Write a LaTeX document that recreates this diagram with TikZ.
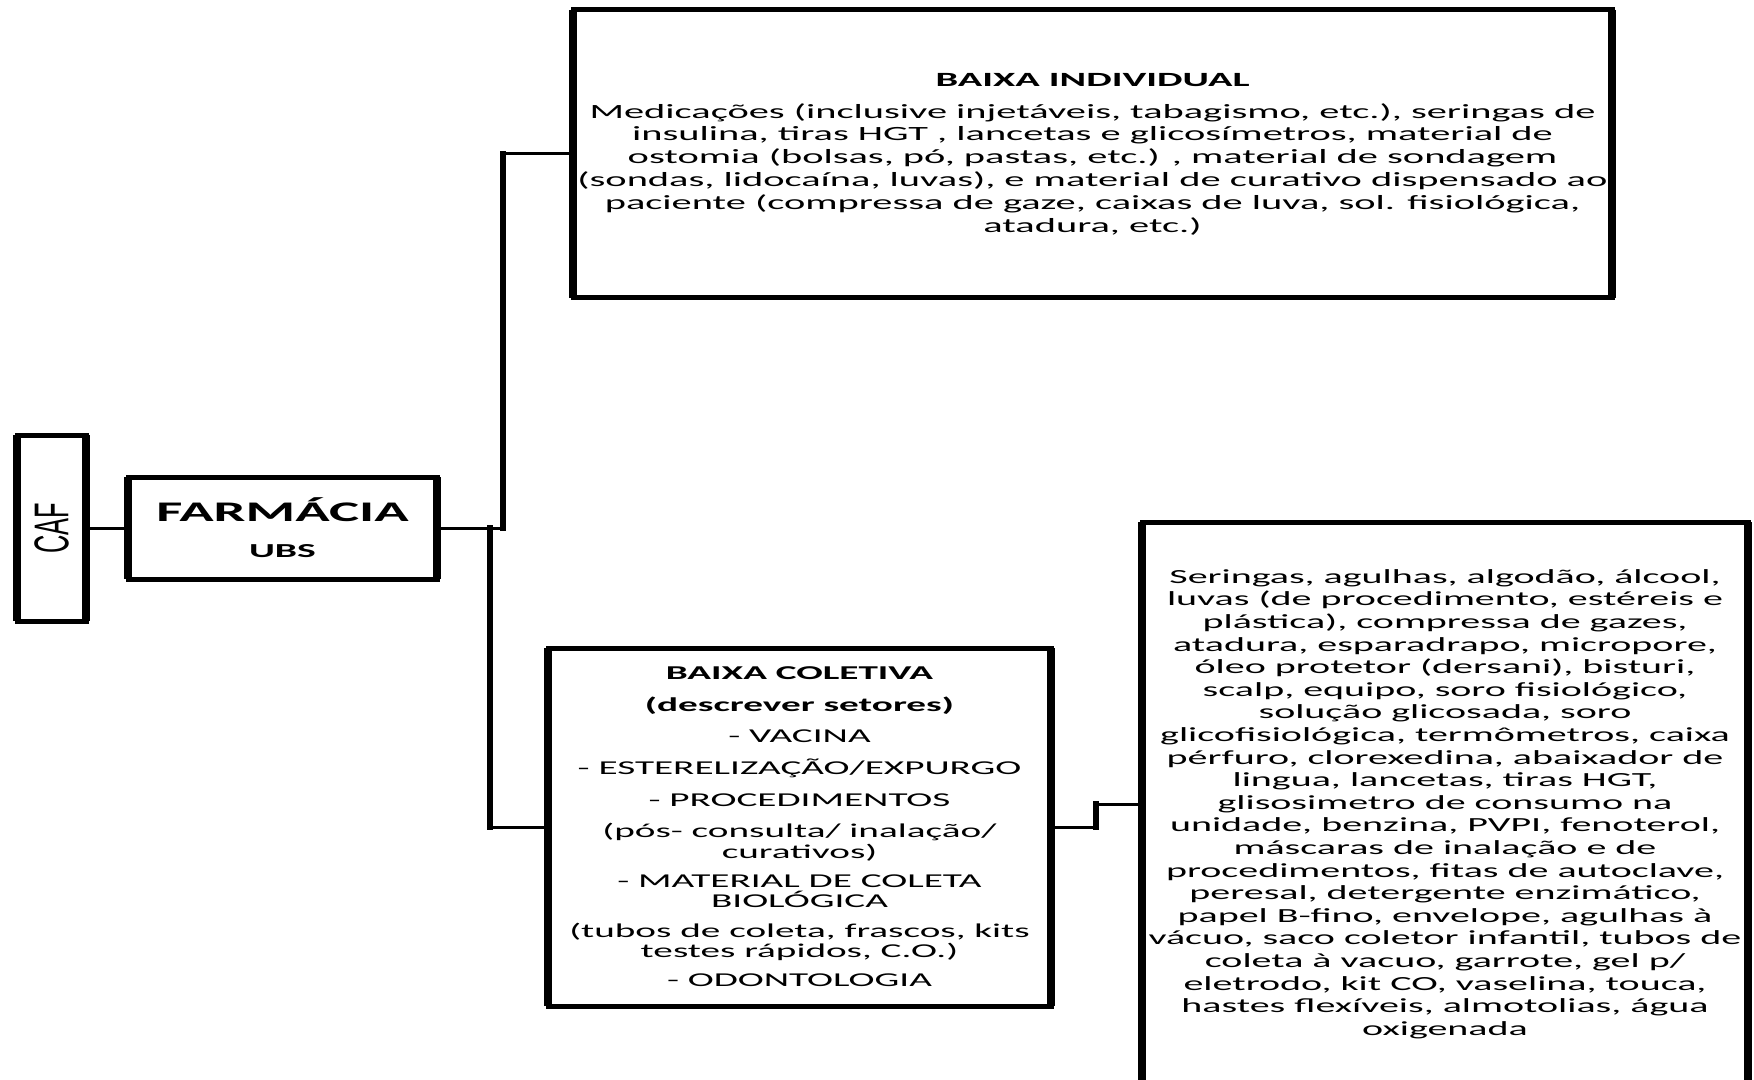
\documentclass[tikz,border=0pt]{standalone}
\usepackage{fontspec}
\setmainfont{Carlito}
\newfontfamily\widefont[FakeStretch=2.0]{Carlito}
\newfontfamily\caffont[FakeStretch=0.52]{Liberation Sans}

\begin{document}
\begin{tikzpicture}[
  x=0.5pt, y=-0.5pt,
  box/.style={draw, line width=2.5pt, inner sep=0pt, outer sep=0pt, align=center,
    append after command={
      (\tikzlastnode.north west) edge[draw=black, line width=4pt] (\tikzlastnode.south west)
      (\tikzlastnode.north east) edge[draw=black, line width=4pt] (\tikzlastnode.south east)}},
  hline/.style={line width=1.5pt},
  vline/.style={line width=2.75pt, line cap=rect}
]
  \useasboundingbox (0,0) rectangle (1754,1080);

  % CAF
  \node[box, minimum width=34.5pt, minimum height=93pt] (caf) at (51.5,528) {};
  \node[rotate=90, font=\caffont\fontsize{24.4}{24}\selectfont] (caftxt) at (caf) {CAF};

  % Farmacia
  \node[box, minimum width=154.5pt, minimum height=51pt,
        font=\widefont\bfseries] (farm) at (282.5,528)
        {\fontsize{14.2}{20}\selectfont FARMÁCIA\\[6pt]{\fontsize{9.9}{12}\selectfont UBS}};

  % Baixa individual
  \node[box, minimum width=519.5pt, minimum height=144pt,
        font=\widefont\fontsize{10.1}{11.4}\selectfont] (indiv) at (1092.5,154)
        {\textbf{BAIXA INDIVIDUAL}\\[4.6pt]
         Medicações (inclusive injetáveis, tabagismo, etc.), seringas de\\
         insulina, tiras HGT ,\  lancetas e glicosímetros, material de\\
         ostomia (bolsas, pó, pastas, etc.) , material de\  sondagem\\
         (sondas, lidocaína, luvas), e material de curativo dispensado ao\\
         paciente (compressa de gaze, caixas de luva, sol. fisiológica,\\
         atadura, etc.)};

  % Baixa coletiva
  \node[box, minimum width=251.5pt, minimum height=179pt,
        font=\widefont\fontsize{9.8}{10.2}\selectfont] (colet) at (799.5,827)
        {\textbf{BAIXA COLETIVA}\\[5.6pt]
         \textbf{(descrever setores)}\\[5.6pt]
         - VACINA\\[5.6pt]
         - ESTERELIZAÇÃO/EXPURGO\\[5.6pt]
         - PROCEDIMENTOS\\[5.6pt]
         (pós- consulta/ inalação/\\
         curativos)\\[4.4pt]
         - MATERIAL DE COLETA\\
         BIOLÓGICA\\[4.6pt]
         (tubos de coleta, frascos, kits\\
         testes rápidos, C.O.)\\[4.4pt]
         - ODONTOLOGIA};

  % Lista de materiais
  \node[box, minimum width=303pt, minimum height=282pt,
        font=\widefont\fontsize{10}{11.3}\selectfont] (lista) at (1445,804)
        {Seringas, agulhas, algodão, álcool,\\
         luvas\  (de procedimento,\  estéreis e\\
         plástica), compressa de gazes,\\
         atadura, esparadrapo, micropore,\\
         óleo protetor (dersani), bisturi,\\
         scalp, equipo, soro fisiológico,\\
         solução glicosada, soro\\
         glicofisiológica, termômetros, caixa\\
         pérfuro, clorexedina, abaixador de\\
         lingua, lancetas, tiras HGT,\\
         glisosimetro de consumo na\\
         unidade,\  benzina, PVPI, fenoterol,\\
         máscaras de inalação e de\\
         procedimentos, fitas de autoclave,\\
         peresal, detergente enzimático,\\
         papel B-fino, envelope, agulhas à\\
         vácuo, saco coletor infantil, tubos de\\
         coleta à vacuo, garrote,\  gel p/\\
         eletrodo, kit CO, vaselina, touca,\\
         hastes flexíveis, almotolias, água\\
         oxigenada};

  % Connectors
  \coordinate (split) at (503,528);
  \coordinate (down) at (490,528);
  \coordinate (kink) at (1096,827);
  \draw[hline] (caf) -- (farm);
  \draw[hline] (farm.east) -- (split);
  \draw[vline] (split) -- (split |- indiv.west);
  \draw[hline] (split |- indiv.west) -- (indiv.west);
  \draw[vline] (down) -- (down |- colet.west);
  \draw[hline] (down |- colet.west) -- (colet.west);
  \draw[hline] (colet.east) -- (kink |- colet.east);
  \draw[vline] (kink |- colet.east) -- (kink |- lista.west);
  \draw[hline] (kink |- lista.west) -- (lista.west);
\end{tikzpicture}
\end{document}
